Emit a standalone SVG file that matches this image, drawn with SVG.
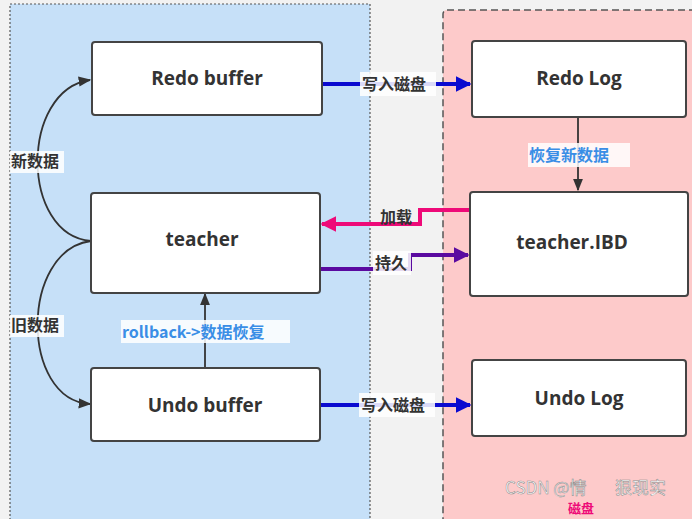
<svg xmlns="http://www.w3.org/2000/svg" width="692" height="519" viewBox="0 0 692 519">
<defs>
<style>
.box{fill:#fff;stroke:#444;stroke-width:2}
.t{font-family:"Open Sans","Noto Sans","Noto Sans CJK SC",sans-serif;font-weight:bold;font-size:19px;fill:#333;text-anchor:middle}
.lb{font-family:"Noto Sans CJK SC",sans-serif;font-weight:bold;font-size:16px;fill:#333}
.bl{fill:#3a8ee6}
.bg{fill:#fff;opacity:0.85}
.wm{font-family:"Noto Sans CJK SC",sans-serif;font-size:17px;fill:#fff;stroke:#888;stroke-width:0.5}
</style>
<marker id="ad" viewBox="0 0 10 10" refX="9" refY="5" markerWidth="7" markerHeight="7" orient="auto"><path d="M0,1 L10,5 L0,9 Z" fill="#333"/></marker>
<marker id="ab" viewBox="0 0 10 10" refX="9" refY="5" markerWidth="4" markerHeight="4" orient="auto"><path d="M0,0 L10,5 L0,10 Z" fill="#0a0ad0"/></marker>
<marker id="ap" viewBox="0 0 10 10" refX="9" refY="5" markerWidth="4" markerHeight="4" orient="auto"><path d="M0,0 L10,5 L0,10 Z" fill="#ee0a78"/></marker>
<marker id="av" viewBox="0 0 10 10" refX="9" refY="5" markerWidth="4" markerHeight="4" orient="auto"><path d="M0,0 L10,5 L0,10 Z" fill="#5a0aa0"/></marker>
</defs>
<rect width="692" height="519" fill="#f2f2f2"/>
<rect x="10" y="4" width="360" height="530" fill="#c6e0f8" stroke="#555" stroke-width="1.2" stroke-dasharray="2,2"/>
<rect x="443" y="10" width="260" height="530" rx="4" fill="#fdcaca" stroke="#555" stroke-width="1.5" stroke-dasharray="7,4"/>
<g id="connectors" fill="none">
<path d="M91,241 C20,235 20,90 90,80" stroke="#333" stroke-width="1.8" marker-end="url(#ad)"/>
<path d="M91,241 C20,250 20,400 90,404" stroke="#333" stroke-width="1.8" marker-end="url(#ad)"/>
<path d="M205,368 V294" stroke="#333" stroke-width="1.8" marker-end="url(#ad)"/>
<path d="M578,117 V190" stroke="#333" stroke-width="1.8" marker-end="url(#ad)"/>
<path d="M322,84 H470" stroke="#0a0ad0" stroke-width="4" marker-end="url(#ab)"/>
<path d="M321,405 H470" stroke="#0a0ad0" stroke-width="4" marker-end="url(#ab)"/>
<path d="M470,210 H420 V224 H322" stroke="#ee0a78" stroke-width="4" marker-end="url(#ap)"/>
<path d="M320,269 H410 V255 H468" stroke="#5a0aa0" stroke-width="4" marker-end="url(#av)"/>
<rect class="bg" x="360" y="72" width="76" height="24"/>
<text class="lb" x="362" y="90">写入磁盘</text>
<rect class="bg" x="359" y="393" width="76" height="24"/>
<text class="lb" x="361" y="411">写入磁盘</text>
<text class="lb" x="380" y="223">加载</text>
<rect class="bg" x="373" y="251" width="38" height="24"/>
<text class="lb" x="375" y="269">持久</text>
<rect class="bg" x="10" y="151" width="54" height="22"/>
<text class="lb" x="11" y="167" font-size="15">新数据</text>
<rect class="bg" x="10" y="315" width="54" height="22"/>
<text class="lb" x="11" y="331" font-size="15">旧数据</text>
<rect class="bg" x="121" y="320" width="169" height="23"/>
<text class="lb bl" x="122" y="338" font-size="17">rollback-&gt;数据恢复</text>
<rect class="bg" x="528" y="143" width="102" height="24"/>
<text class="lb bl" x="529" y="161" font-size="17">恢复新数据</text>
</g>
<g id="redo-buffer"><rect class="box" x="92" y="42" width="230" height="73" rx="3"/><text class="t" x="207" y="85">Redo buffer</text></g>
<g id="teacher"><rect class="box" x="91" y="193" width="229" height="100" rx="3"/><text class="t" x="202" y="246">teacher</text></g>
<g id="undo-buffer"><rect class="box" x="91" y="368" width="229" height="73" rx="3"/><text class="t" x="205" y="412">Undo buffer</text></g>
<g id="redo-log"><rect class="box" x="472" y="41" width="214" height="76" rx="3"/><text class="t" x="579" y="85">Redo Log</text></g>
<g id="teacher-ibd"><rect class="box" x="470" y="192" width="218" height="104" rx="3"/><text class="t" x="572" y="249">teacher.IBD</text></g>
<g id="undo-log"><rect class="box" x="472" y="360" width="214" height="76" rx="3"/><text class="t" x="579" y="405">Undo Log</text></g>
<text x="568" y="513" font-family="Noto Sans CJK SC,sans-serif" font-weight="bold" font-size="13" fill="#ee0a78">磁盘</text>
<text class="wm" x="505" y="494">CSDN @情</text>
<text class="wm" x="615" y="494">狠现实</text>
</svg>
